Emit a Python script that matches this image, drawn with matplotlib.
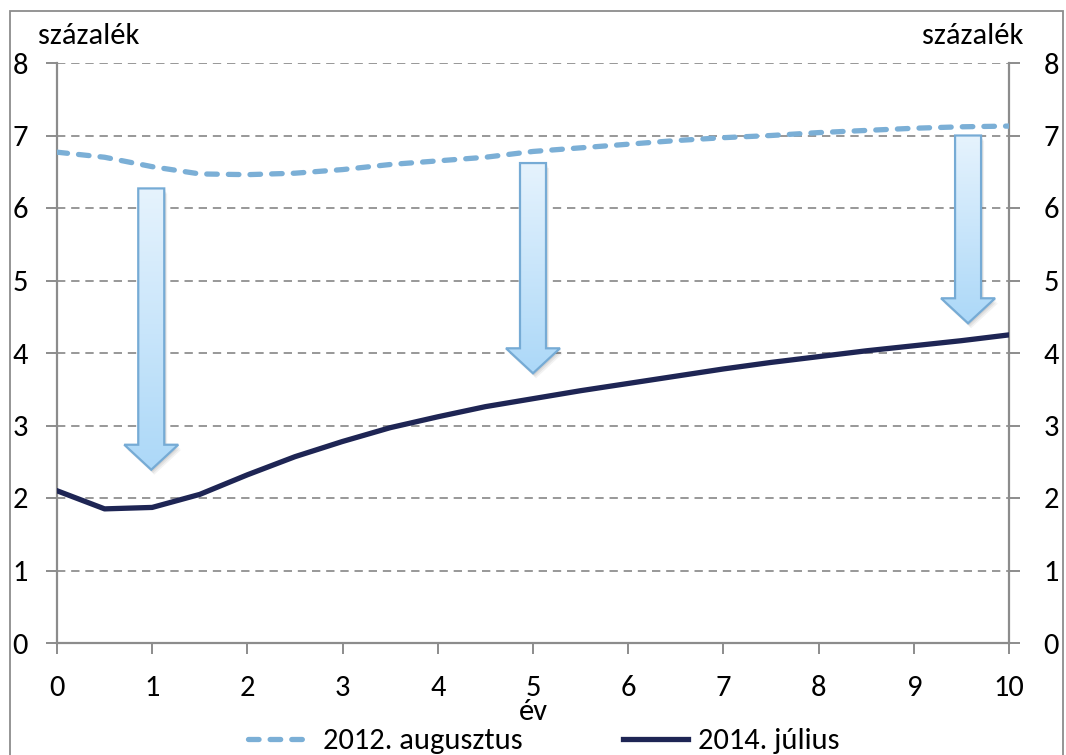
import matplotlib
matplotlib.use("Agg")
import matplotlib.pyplot as plt
import numpy as np
from matplotlib.patches import Polygon, Rectangle
from matplotlib.colors import LinearSegmentedColormap

plt.rcParams['font.family'] = ['Carlito', 'DejaVu Sans']

years = [0, 0.5, 1, 1.5, 2, 2.5, 3, 3.5, 4, 4.5, 5, 5.5, 6, 6.5, 7, 7.5, 8, 8.5, 9, 9.5, 10]
aug2012 = [6.77, 6.70, 6.57, 6.47, 6.46, 6.48, 6.53, 6.60, 6.65, 6.70, 6.78, 6.83, 6.88,
           6.93, 6.97, 7.00, 7.04, 7.07, 7.10, 7.12, 7.13]
jul2014 = [2.10, 1.85, 1.87, 2.05, 2.32, 2.57, 2.78, 2.97, 3.12, 3.26, 3.37, 3.48, 3.58,
           3.68, 3.78, 3.87, 3.95, 4.03, 4.10, 4.17, 4.25]
series_names = ["2012. augusztus", "2014. július"]
xticks = list(range(0, 11))
yticks = list(range(0, 9))
# arrows: (x, y_start, y_end)
arrow_x = [0.99, 5.0, 9.57]
arrow_top = [6.27, 6.62, 7.0]
arrow_tip = [2.39, 3.72, 4.41]

W, H = 1066, 755
fig = plt.figure(figsize=(W/100, H/100), dpi=100)
x0, x1, ytop, ybot = 57, 1009, 63, 643
ax = fig.add_axes([x0/W, 1-ybot/H, (x1-x0)/W, (ybot-ytop)/H])

ax.set_xlim(0, 10)
ax.set_ylim(0, 8)
ax.set_xticks(xticks)
ax.set_yticks(yticks)
ax.yaxis.grid(True, color='#868686', linestyle=(0, (5, 3.5)), linewidth=1.2)
ax.set_axisbelow(True)

grey = '#8c8c8c'
for s in ['left', 'right', 'bottom']:
    ax.spines[s].set_color(grey)
    ax.spines[s].set_linewidth(1.6)
ax.spines['top'].set_visible(False)

fs = 22
ax.tick_params(axis='both', colors=grey, labelcolor='black', labelsize=fs, width=1.4, length=8)
ax.tick_params(axis='y', pad=13)
ax.tick_params(axis='x', pad=15)

ax2 = ax.twinx()
ax2.set_ylim(0, 8)
ax2.set_yticks(yticks)
for s in ['left', 'right', 'bottom', 'top']:
    ax2.spines[s].set_visible(False)
ax2.tick_params(axis='y', colors=grey, labelcolor='black', labelsize=fs, width=1.4, length=8, pad=17)

l1, = ax.plot(years, aug2012, color='#7bafd6', linewidth=3.8, linestyle=(0, (2.0, 2.1)),
              dash_capstyle='round', solid_capstyle='round', zorder=4, label=series_names[0])
l2, = ax.plot(years, jul2014, color='#1e2554', linewidth=3.8, zorder=4, label=series_names[1])

# arrows with gradient
pxx = 10 / (x1 - x0)
pxy = 8 / (ybot - ytop)
shaft_w = 26 * pxx
head_w = 54 * pxx
head_h = 25 * pxy
grad = np.linspace(0, 1, 256).reshape(-1, 1)
cmap = LinearSegmentedColormap.from_list('arr', ['#acd8f8', '#e6f3fd'])
for xc, yt, yb in zip(arrow_x, arrow_top, arrow_tip):
    pts = [(xc - shaft_w/2, yt), (xc + shaft_w/2, yt), (xc + shaft_w/2, yb + head_h),
           (xc + head_w/2, yb + head_h), (xc, yb), (xc - head_w/2, yb + head_h),
           (xc - shaft_w/2, yb + head_h)]
    for k, a in [(5, 0.05), (3.5, 0.06), (2, 0.07)]:
        sh = Polygon([(p[0] + k*pxx*0.6, p[1] - k*pxy) for p in pts], closed=True,
                     facecolor='#000000', alpha=a, edgecolor='none', zorder=5)
        ax.add_patch(sh)
    poly = Polygon(pts, closed=True, facecolor='none', edgecolor='#76abd5', linewidth=1.6, zorder=7)
    ax.add_patch(poly)
    im = ax.imshow(grad, extent=[xc - head_w/2, xc + head_w/2, yb, yt], aspect='auto',
                   cmap=cmap, origin='lower', zorder=6)
    im.set_clip_path(poly)

fig.text(38/W, 1-44/H, 'százalék', fontsize=fs, ha='left', va='baseline')
fig.text(1023/W, 1-44/H, 'százalék', fontsize=fs, ha='right', va='baseline')
fig.text(533/W, 1-712/H, 'év', fontsize=fs, ha='center', va='center')

fig.legend(handles=[l1, l2], loc='center', bbox_to_anchor=(544/W, 1-741/H), ncol=2,
           frameon=False, fontsize=fs, handlelength=2.1, columnspacing=3.3, handletextpad=0.35,
           borderpad=0, borderaxespad=0)

# outer frame
fig.patches.append(Rectangle((10/W, -0.01), 1053/W, 1 - 11/H + 0.01, transform=fig.transFigure,
                             fill=False, edgecolor='#8c8c8c', linewidth=1.3))

fig.savefig('out.png', dpi=100)
